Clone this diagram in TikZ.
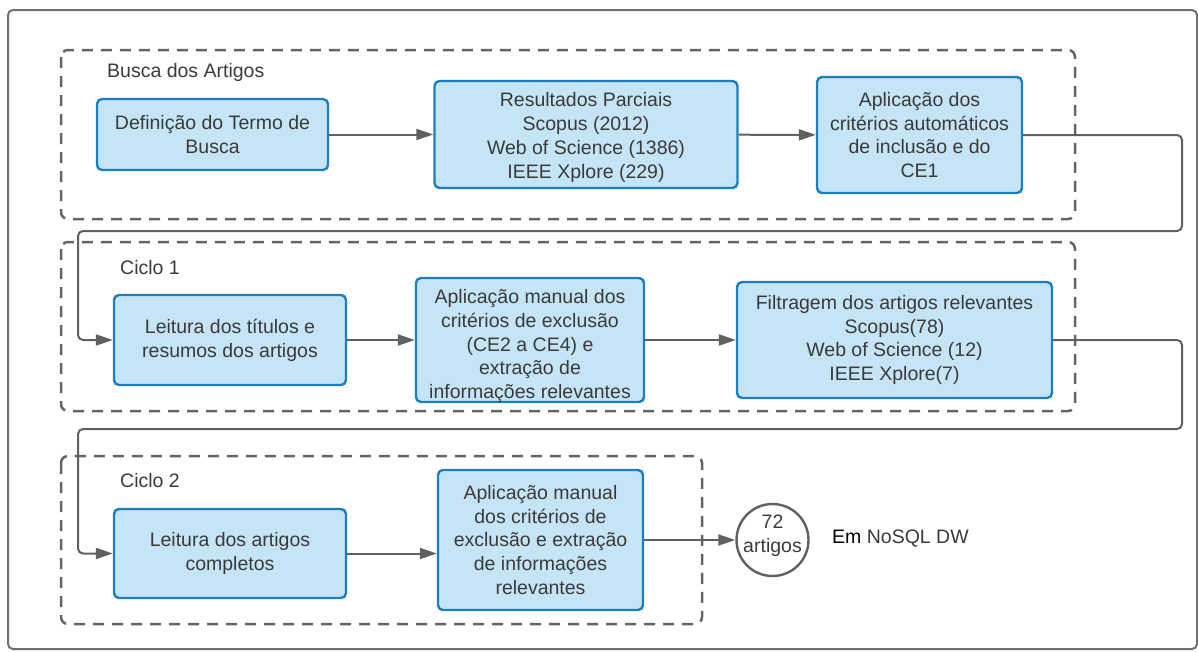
\documentclass[tikz,border=0pt]{standalone}
\usepackage{fontspec}
\setmainfont{Liberation Sans}
\usetikzlibrary{arrows.meta}
\definecolor{boxfill}{RGB}{197,228,246}
\definecolor{boxline}{RGB}{28,126,192}
\definecolor{txt}{RGB}{58,58,58}
\definecolor{wire}{RGB}{96,96,96}
\definecolor{groupline}{RGB}{100,100,100}
\definecolor{frameline}{RGB}{112,112,112}
\tikzset{
  stepbox/.style={draw=boxline, fill=boxfill, line width=2.4pt, rounded corners=5pt,
    align=center, inner sep=2pt, text=txt,
    font=\fontsize{19.5}{23.8}\selectfont},
  boxtext/.style={align=center, inner sep=0pt, text=txt,
    font=\fontsize{19.5}{23.8}\selectfont},
  groupbox/.style={draw=groupline, line width=2.5pt, dash pattern=on 11pt off 8pt,
    rounded corners=7pt},
  grouplabel/.style={anchor=west, inner sep=0pt, text=txt,
    font=\fontsize{19.5}{23.8}\selectfont},
  flow/.style={draw=wire, line width=2pt, rounded corners=5pt,
    -{Triangle[length=17pt,width=11pt]}},
  endcircle/.style={draw=wire, line width=2.4pt, circle, minimum size=72pt, inner sep=0pt,
    align=center, text=txt, font=\fontsize{19.5}{23.5}\selectfont},
}
\begin{document}
\begin{tikzpicture}[x=1pt,y=-1pt]
\useasboundingbox (0,0) rectangle (1198,651);
% outer frame
\draw[frameline, line width=2pt, rounded corners=5pt] (8,10) rectangle (1197,649);

% groups
\draw[groupbox] (61,50) rectangle (1075,219);
\draw[groupbox] (61,242) rectangle (1075,411);
\draw[groupbox] (61,456) rectangle (702,624);
\node[grouplabel] (lbusca) at (107,72) {Busca dos Artigos};
\node[grouplabel] (lciclo1) at (120,268) {Ciclo 1};
\node[grouplabel] (lciclo2) at (120,481) {Ciclo 2};

% search stage
\node[stepbox, minimum width=231pt, minimum height=71pt] (a) at (212.5,134.5)
  {Definição do Termo de\\Busca};
\node[stepbox, minimum width=303pt, minimum height=107pt] (b) at (586,134.5) {};
\node[boxtext] (btext) at (586,137.5)
  {Resultados Parciais\\Scopus (2012)\\Web of Science (1386)\\IEEE Xplore (229)};
\node[stepbox, minimum width=205pt, minimum height=116pt] (c) at (919.5,135)
  {Aplicação dos\\critérios automáticos\\de inclusão e do\\CE1};

% cycle 1
\node[stepbox, minimum width=232pt, minimum height=90pt] (d) at (230,340)
  {Leitura dos títulos e\\resumos dos artigos};
\node[stepbox, minimum width=228pt, minimum height=124pt] (e) at (530,340) {};
\node[boxtext] (etext) at (530,346)
  {Aplicação manual dos\\critérios de exclusão\\(CE2 a CE4) e\\extração de\\informações relevantes};
\node[stepbox, minimum width=315pt, minimum height=116pt] (f) at (894.5,340)
  {Filtragem dos artigos relevantes\\Scopus(78)\\Web of Science (12)\\IEEE Xplore(7)};

% cycle 2
\node[stepbox, minimum width=232pt, minimum height=89pt] (g) at (230,553.5)
  {Leitura dos artigos\\completos};
\node[stepbox, minimum width=205pt, minimum height=140pt] (h) at (540.5,540)
  {Aplicação manual\\dos critérios de\\exclusão e extração\\de informações\\relevantes};
\node[endcircle] (res) at (772.5,540) {};
\node[boxtext] (restext) at (772.5,536) {72\\artigos};
\node[anchor=west, inner sep=0pt, text=txt, font=\fontsize{19.5}{23.8}\selectfont]
  (note) at (832,539) {{\color{black}Em} NoSQL DW};

% connectors
\coordinate (r1) at (1182,135);
\coordinate (r2) at (1182,231);
\coordinate (l1) at (78,231);
\coordinate (l2) at (78,340);
\coordinate (r3) at (1182,340);
\coordinate (r4) at (1182,429);
\coordinate (l3) at (78,429);
\coordinate (l4) at (78,553.5);

\draw[flow] (a) -- (b);
\draw[flow] (b) -- (c);
\draw[flow] (c.east) -- (r1) -- (r2) -- (l1) -- (l2) -- (d.west);
\draw[flow] (d) -- (e);
\draw[flow] (e) -- (f);
\draw[flow] (f.east) -- (r3) -- (r4) -- (l3) -- (l4) -- (g.west);
\draw[flow] (g.east) -- (g.east -| h.west);
\draw[flow] (h) -- (res);
\end{tikzpicture}
\end{document}
